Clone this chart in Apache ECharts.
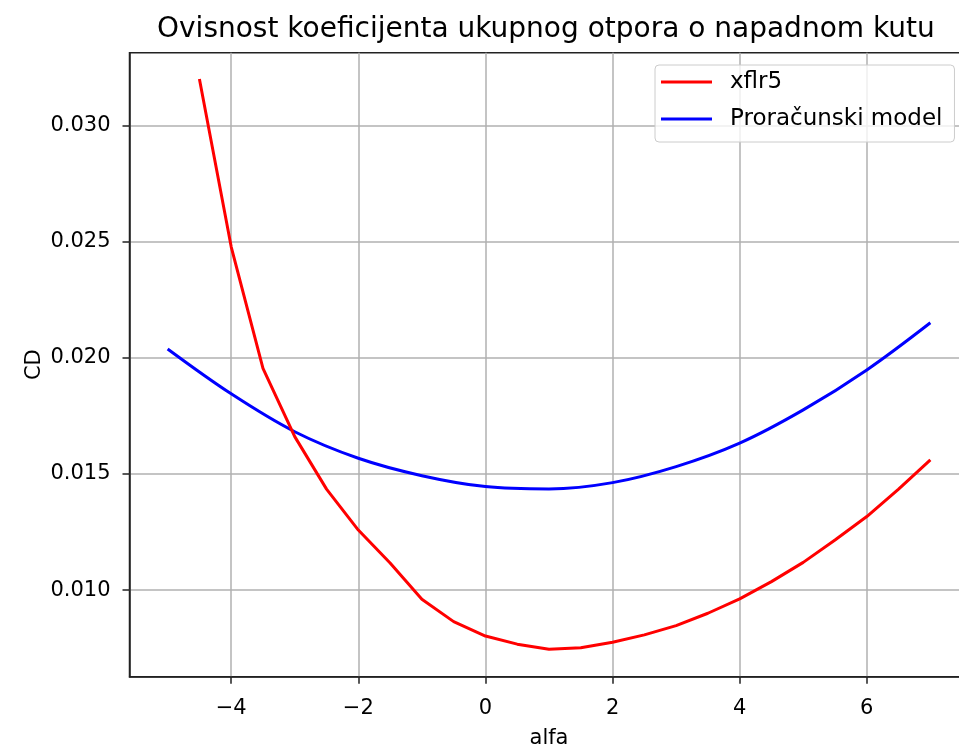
<!DOCTYPE html>
<html>
<head>
<meta charset="utf-8">
<script src="https://cdn.jsdelivr.net/npm/echarts@6/dist/echarts.min.js"></script>
<style>
html,body{margin:0;padding:0;background:#fff;}
#c{width:959px;height:751px;}
</style>
</head>
<body>
<div id="c"></div>
<script>
// ---- data ----
var titleText = 'Ovisnost koeficijenta ukupnog otpora o napadnom kutu';
var xName = 'alfa';
var yName = 'CD';
var seriesNames = ['xflr5', 'Proračunski model'];

var xflrAlpha = [-4.5, -4, -3.5, -3, -2.5, -2, -1.5, -1, -0.5, 0, 0.5, 1, 1.5, 2, 2.5, 3, 3.5, 4, 4.5, 5, 5.5, 6, 6.5, 7];
var xflrCD = [0.0320, 0.02478, 0.01955, 0.01661, 0.01435, 0.01259, 0.01117, 0.00961, 0.00865, 0.00803, 0.00768, 0.00746, 0.00753, 0.00776, 0.00808, 0.00848, 0.00901, 0.00963, 0.01037, 0.01120, 0.01216, 0.01317, 0.01435, 0.01561];

var modelAlpha = [-5, -4, -3, -2, -1, 0, 1, 2, 3, 4, 5, 6, 7];
var modelCD = [0.02038, 0.01845, 0.01682, 0.01568, 0.01493, 0.01446, 0.01436, 0.01463, 0.01532, 0.01633, 0.01776, 0.01948, 0.02151];

var xTicks = [-4, -2, 0, 2, 4, 6];
var yTicks = [0.010, 0.015, 0.020, 0.025, 0.030];

function pairs(xs, ys) { return xs.map(function (x, i) { return [x, ys[i]]; }); }

var FONT = 'DejaVu Sans';
var chart = echarts.init(document.getElementById('c'), null, {renderer: 'canvas'});
chart.setOption({
  animation: false,
  backgroundColor: '#fff',
  title: {
    text: titleText,
    left: 157,
    top: 16,
    padding: 0,
    textStyle: {fontFamily: FONT, fontSize: 28, fontWeight: 'normal', color: '#000'}
  },
  legend: {
    orient: 'vertical',
    left: 655,
    top: 65,
    padding: [4, 12, 10, 6],
    itemGap: 11,
    itemWidth: 51,
    itemHeight: 3,
    icon: 'rect',
    borderColor: '#cccccc',
    borderWidth: 1,
    borderRadius: 4,
    backgroundColor: 'rgba(255,255,255,0.8)',
    textStyle: {fontFamily: FONT, fontSize: 23, color: '#000', lineHeight: 26, padding: [0, 0, 0, 13]},
    data: seriesNames
  },
  grid: {
    left: 129.5,
    top: 52.7,
    width: 839,
    bottom: 74.3,
    show: true,
    borderColor: '#222',
    borderWidth: 1.5,
    backgroundColor: 'transparent',
    containLabel: false,
    outerBoundsMode: 'none'
  },
  xAxis: {
    type: 'value',
    min: -5.6,
    max: 7.6,
    name: xName,
    nameLocation: 'middle',
    nameGap: 51,
    nameMoveOverlap: false,
    nameTextStyle: {fontFamily: FONT, fontSize: 21, color: '#000'},
    axisLine: {show: true, onZero: false, lineStyle: {color: '#222', width: 1.5}},
    axisTick: {show: true, length: 7, lineStyle: {color: '#222', width: 1.5}, customValues: xTicks},
    axisLabel: {
      fontFamily: FONT, fontSize: 21, color: '#000', margin: 21,
      customValues: xTicks,
      formatter: function (v) { return String(v).replace('-', '\u2212'); }
    },
    splitLine: {show: true, lineStyle: {color: '#b0b0b0', width: 1.5}}
  },
  yAxis: {
    type: 'value',
    min: 0.00628,
    max: 0.03313,
    name: yName,
    nameLocation: 'middle',
    nameGap: 84,
    nameRotate: 90,
    nameMoveOverlap: false,
    nameTextStyle: {fontFamily: FONT, fontSize: 21, color: '#000'},
    axisLine: {show: true, onZero: false, lineStyle: {color: '#222', width: 1.5}},
    axisTick: {show: true, length: 7, lineStyle: {color: '#222', width: 1.5}, customValues: yTicks},
    axisLabel: {
      fontFamily: FONT, fontSize: 21, color: '#000', margin: 19,
      customValues: yTicks,
      formatter: function (v) { return v.toFixed(3); }
    },
    splitLine: {show: true, lineStyle: {color: '#b0b0b0', width: 1.5}}
  },
  series: [
    {
      name: seriesNames[0],
      type: 'line',
      data: pairs(xflrAlpha, xflrCD),
      symbol: 'none',
      smooth: false,
      itemStyle: {color: '#ff0000'},
      lineStyle: {color: '#ff0000', width: 3},
      z: 3
    },
    {
      name: seriesNames[1],
      type: 'line',
      data: pairs(modelAlpha, modelCD),
      symbol: 'none',
      smooth: 0.35,
      itemStyle: {color: '#0000ff'},
      lineStyle: {color: '#0000ff', width: 3},
      z: 2
    }
  ]
});
</script>
</body>
</html>
